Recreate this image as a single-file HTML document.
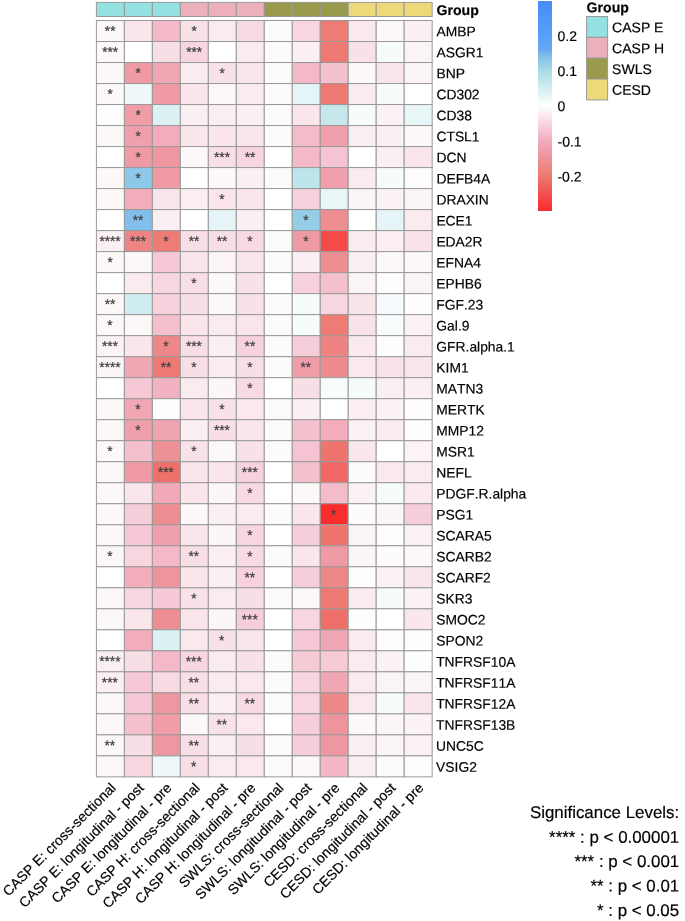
<!DOCTYPE html>
<html><head><meta charset="utf-8"><title>Heatmap</title>
<style>html,body{margin:0;padding:0;background:#fff}svg{display:block}text{font-family:"Liberation Sans",sans-serif;fill:#000;font-kerning:none;stroke:#000;stroke-width:0.18px}</style></head><body>
<svg width="685" height="921" viewBox="0 0 685 921">
<rect width="685" height="921" fill="#fff"/>
<g stroke="#999999" stroke-width="1">
<rect x="96.40" y="2.4" width="27.98" height="14.1" fill="#93E1E1"/>
<rect x="124.38" y="2.4" width="27.98" height="14.1" fill="#93E1E1"/>
<rect x="152.36" y="2.4" width="27.98" height="14.1" fill="#93E1E1"/>
<rect x="180.34" y="2.4" width="27.98" height="14.1" fill="#EBB0BC"/>
<rect x="208.32" y="2.4" width="27.98" height="14.1" fill="#EBB0BC"/>
<rect x="236.30" y="2.4" width="27.98" height="14.1" fill="#EBB0BC"/>
<rect x="264.28" y="2.4" width="27.98" height="14.1" fill="#999A4B"/>
<rect x="292.26" y="2.4" width="27.98" height="14.1" fill="#999A4B"/>
<rect x="320.24" y="2.4" width="27.98" height="14.1" fill="#999A4B"/>
<rect x="348.22" y="2.4" width="27.98" height="14.1" fill="#EDD97A"/>
<rect x="376.20" y="2.4" width="27.98" height="14.1" fill="#EDD97A"/>
<rect x="404.18" y="2.4" width="27.98" height="14.1" fill="#EDD97A"/>
</g>
<g stroke="#999999" stroke-width="1">
<rect x="96.40" y="20.50" width="27.98" height="21.01" fill="#FCF8F8"/>
<rect x="124.38" y="20.50" width="27.98" height="21.01" fill="#F9E5EA"/>
<rect x="152.36" y="20.50" width="27.98" height="21.01" fill="#F4B8C8"/>
<rect x="180.34" y="20.50" width="27.98" height="21.01" fill="#F8E2E8"/>
<rect x="208.32" y="20.50" width="27.98" height="21.01" fill="#FAEBEE"/>
<rect x="236.30" y="20.50" width="27.98" height="21.01" fill="#F8DAE2"/>
<rect x="264.28" y="20.50" width="27.98" height="21.01" fill="#FDFAFA"/>
<rect x="292.26" y="20.50" width="27.98" height="21.01" fill="#F7D6DF"/>
<rect x="320.24" y="20.50" width="27.98" height="21.01" fill="#EE7C75"/>
<rect x="348.22" y="20.50" width="27.98" height="21.01" fill="#FAE8EC"/>
<rect x="376.20" y="20.50" width="27.98" height="21.01" fill="#FCF8F8"/>
<rect x="404.18" y="20.50" width="27.98" height="21.01" fill="#FAF0F3"/>
<rect x="96.40" y="41.51" width="27.98" height="21.01" fill="#FCF8F8"/>
<rect x="124.38" y="41.51" width="27.98" height="21.01" fill="#FFFFFF"/>
<rect x="152.36" y="41.51" width="27.98" height="21.01" fill="#F8DEE5"/>
<rect x="180.34" y="41.51" width="27.98" height="21.01" fill="#F7D6DF"/>
<rect x="208.32" y="41.51" width="27.98" height="21.01" fill="#FFFFFF"/>
<rect x="236.30" y="41.51" width="27.98" height="21.01" fill="#FAEBEE"/>
<rect x="264.28" y="41.51" width="27.98" height="21.01" fill="#FDFAFA"/>
<rect x="292.26" y="41.51" width="27.98" height="21.01" fill="#FAF0F3"/>
<rect x="320.24" y="41.51" width="27.98" height="21.01" fill="#EE7872"/>
<rect x="348.22" y="41.51" width="27.98" height="21.01" fill="#F8E2E8"/>
<rect x="376.20" y="41.51" width="27.98" height="21.01" fill="#F6FCFC"/>
<rect x="404.18" y="41.51" width="27.98" height="21.01" fill="#FBF4F6"/>
<rect x="96.40" y="62.52" width="27.98" height="21.01" fill="#FCF8F8"/>
<rect x="124.38" y="62.52" width="27.98" height="21.01" fill="#EF9AA4"/>
<rect x="152.36" y="62.52" width="27.98" height="21.01" fill="#F1A6B4"/>
<rect x="180.34" y="62.52" width="27.98" height="21.01" fill="#FAEBEE"/>
<rect x="208.32" y="62.52" width="27.98" height="21.01" fill="#F8E2E8"/>
<rect x="236.30" y="62.52" width="27.98" height="21.01" fill="#F9E5EA"/>
<rect x="264.28" y="62.52" width="27.98" height="21.01" fill="#FDFAFA"/>
<rect x="292.26" y="62.52" width="27.98" height="21.01" fill="#F4B8C8"/>
<rect x="320.24" y="62.52" width="27.98" height="21.01" fill="#F5C0CE"/>
<rect x="348.22" y="62.52" width="27.98" height="21.01" fill="#FCF8F8"/>
<rect x="376.20" y="62.52" width="27.98" height="21.01" fill="#F9E5EA"/>
<rect x="404.18" y="62.52" width="27.98" height="21.01" fill="#FBF4F6"/>
<rect x="96.40" y="83.53" width="27.98" height="21.01" fill="#FCF8F8"/>
<rect x="124.38" y="83.53" width="27.98" height="21.01" fill="#EEF8FA"/>
<rect x="152.36" y="83.53" width="27.98" height="21.01" fill="#EF9AA4"/>
<rect x="180.34" y="83.53" width="27.98" height="21.01" fill="#F9E5EA"/>
<rect x="208.32" y="83.53" width="27.98" height="21.01" fill="#FCF8F8"/>
<rect x="236.30" y="83.53" width="27.98" height="21.01" fill="#FAEBEE"/>
<rect x="264.28" y="83.53" width="27.98" height="21.01" fill="#FDFAFA"/>
<rect x="292.26" y="83.53" width="27.98" height="21.01" fill="#E5F4F7"/>
<rect x="320.24" y="83.53" width="27.98" height="21.01" fill="#EE7872"/>
<rect x="348.22" y="83.53" width="27.98" height="21.01" fill="#FAEBEE"/>
<rect x="376.20" y="83.53" width="27.98" height="21.01" fill="#F6FCFC"/>
<rect x="404.18" y="83.53" width="27.98" height="21.01" fill="#FFFFFF"/>
<rect x="96.40" y="104.54" width="27.98" height="21.01" fill="#FEFCFC"/>
<rect x="124.38" y="104.54" width="27.98" height="21.01" fill="#F09DA8"/>
<rect x="152.36" y="104.54" width="27.98" height="21.01" fill="#DCF1F4"/>
<rect x="180.34" y="104.54" width="27.98" height="21.01" fill="#FAF0F3"/>
<rect x="208.32" y="104.54" width="27.98" height="21.01" fill="#FAEEF0"/>
<rect x="236.30" y="104.54" width="27.98" height="21.01" fill="#FAF0F3"/>
<rect x="264.28" y="104.54" width="27.98" height="21.01" fill="#FDFAFA"/>
<rect x="292.26" y="104.54" width="27.98" height="21.01" fill="#F9E5EA"/>
<rect x="320.24" y="104.54" width="27.98" height="21.01" fill="#C6E8ED"/>
<rect x="348.22" y="104.54" width="27.98" height="21.01" fill="#F6FCFC"/>
<rect x="376.20" y="104.54" width="27.98" height="21.01" fill="#FAF2F4"/>
<rect x="404.18" y="104.54" width="27.98" height="21.01" fill="#E9F6F8"/>
<rect x="96.40" y="125.55" width="27.98" height="21.01" fill="#FCF8F8"/>
<rect x="124.38" y="125.55" width="27.98" height="21.01" fill="#F0A0AC"/>
<rect x="152.36" y="125.55" width="27.98" height="21.01" fill="#F2ACBB"/>
<rect x="180.34" y="125.55" width="27.98" height="21.01" fill="#F9E7EB"/>
<rect x="208.32" y="125.55" width="27.98" height="21.01" fill="#F9E5EA"/>
<rect x="236.30" y="125.55" width="27.98" height="21.01" fill="#F9E5EA"/>
<rect x="264.28" y="125.55" width="27.98" height="21.01" fill="#FDFAFA"/>
<rect x="292.26" y="125.55" width="27.98" height="21.01" fill="#F4BCCB"/>
<rect x="320.24" y="125.55" width="27.98" height="21.01" fill="#F0A0AC"/>
<rect x="348.22" y="125.55" width="27.98" height="21.01" fill="#FAF0F3"/>
<rect x="376.20" y="125.55" width="27.98" height="21.01" fill="#FAF0F3"/>
<rect x="404.18" y="125.55" width="27.98" height="21.01" fill="#FCF8F8"/>
<rect x="96.40" y="146.56" width="27.98" height="21.01" fill="#FFFFFF"/>
<rect x="124.38" y="146.56" width="27.98" height="21.01" fill="#EF9AA4"/>
<rect x="152.36" y="146.56" width="27.98" height="21.01" fill="#EE97A0"/>
<rect x="180.34" y="146.56" width="27.98" height="21.01" fill="#FCF8F8"/>
<rect x="208.32" y="146.56" width="27.98" height="21.01" fill="#F8DEE5"/>
<rect x="236.30" y="146.56" width="27.98" height="21.01" fill="#F7D6DF"/>
<rect x="264.28" y="146.56" width="27.98" height="21.01" fill="#FFFFFF"/>
<rect x="292.26" y="146.56" width="27.98" height="21.01" fill="#F4B8C8"/>
<rect x="320.24" y="146.56" width="27.98" height="21.01" fill="#F5C3D1"/>
<rect x="348.22" y="146.56" width="27.98" height="21.01" fill="#FFFFFF"/>
<rect x="376.20" y="146.56" width="27.98" height="21.01" fill="#FAF0F3"/>
<rect x="404.18" y="146.56" width="27.98" height="21.01" fill="#F9E5EA"/>
<rect x="96.40" y="167.57" width="27.98" height="21.01" fill="#FCF8F8"/>
<rect x="124.38" y="167.57" width="27.98" height="21.01" fill="#8EC8E8"/>
<rect x="152.36" y="167.57" width="27.98" height="21.01" fill="#EF9AA4"/>
<rect x="180.34" y="167.57" width="27.98" height="21.01" fill="#FFFFFF"/>
<rect x="208.32" y="167.57" width="27.98" height="21.01" fill="#FCF8F8"/>
<rect x="236.30" y="167.57" width="27.98" height="21.01" fill="#FAF0F3"/>
<rect x="264.28" y="167.57" width="27.98" height="21.01" fill="#FDFAFA"/>
<rect x="292.26" y="167.57" width="27.98" height="21.01" fill="#BEE5EB"/>
<rect x="320.24" y="167.57" width="27.98" height="21.01" fill="#F0A0AC"/>
<rect x="348.22" y="167.57" width="27.98" height="21.01" fill="#FAEBEE"/>
<rect x="376.20" y="167.57" width="27.98" height="21.01" fill="#F6FCFC"/>
<rect x="404.18" y="167.57" width="27.98" height="21.01" fill="#FEFCFC"/>
<rect x="96.40" y="188.58" width="27.98" height="21.01" fill="#FCF8F8"/>
<rect x="124.38" y="188.58" width="27.98" height="21.01" fill="#F2ACBB"/>
<rect x="152.36" y="188.58" width="27.98" height="21.01" fill="#F9E5EA"/>
<rect x="180.34" y="188.58" width="27.98" height="21.01" fill="#FAEEF0"/>
<rect x="208.32" y="188.58" width="27.98" height="21.01" fill="#F9E5EA"/>
<rect x="236.30" y="188.58" width="27.98" height="21.01" fill="#F9E5EA"/>
<rect x="264.28" y="188.58" width="27.98" height="21.01" fill="#FFFFFF"/>
<rect x="292.26" y="188.58" width="27.98" height="21.01" fill="#F7D2DC"/>
<rect x="320.24" y="188.58" width="27.98" height="21.01" fill="#E8F6F8"/>
<rect x="348.22" y="188.58" width="27.98" height="21.01" fill="#FBF4F6"/>
<rect x="376.20" y="188.58" width="27.98" height="21.01" fill="#FBF2F4"/>
<rect x="404.18" y="188.58" width="27.98" height="21.01" fill="#FBF4F6"/>
<rect x="96.40" y="209.59" width="27.98" height="21.01" fill="#FFFFFF"/>
<rect x="124.38" y="209.59" width="27.98" height="21.01" fill="#82BEEB"/>
<rect x="152.36" y="209.59" width="27.98" height="21.01" fill="#FAF0F3"/>
<rect x="180.34" y="209.59" width="27.98" height="21.01" fill="#FFFFFF"/>
<rect x="208.32" y="209.59" width="27.98" height="21.01" fill="#E5F4F7"/>
<rect x="236.30" y="209.59" width="27.98" height="21.01" fill="#FAF0F3"/>
<rect x="264.28" y="209.59" width="27.98" height="21.01" fill="#FFFFFF"/>
<rect x="292.26" y="209.59" width="27.98" height="21.01" fill="#96CEE7"/>
<rect x="320.24" y="209.59" width="27.98" height="21.01" fill="#EE8E92"/>
<rect x="348.22" y="209.59" width="27.98" height="21.01" fill="#FFFFFF"/>
<rect x="376.20" y="209.59" width="27.98" height="21.01" fill="#E5F4F7"/>
<rect x="404.18" y="209.59" width="27.98" height="21.01" fill="#FAEBEE"/>
<rect x="96.40" y="230.60" width="27.98" height="21.01" fill="#FAF0F3"/>
<rect x="124.38" y="230.60" width="27.98" height="21.01" fill="#EE8584"/>
<rect x="152.36" y="230.60" width="27.98" height="21.01" fill="#EE7C75"/>
<rect x="180.34" y="230.60" width="27.98" height="21.01" fill="#F8DEE5"/>
<rect x="208.32" y="230.60" width="27.98" height="21.01" fill="#F8DEE5"/>
<rect x="236.30" y="230.60" width="27.98" height="21.01" fill="#F8DAE2"/>
<rect x="264.28" y="230.60" width="27.98" height="21.01" fill="#FDFAFA"/>
<rect x="292.26" y="230.60" width="27.98" height="21.01" fill="#EF9AA4"/>
<rect x="320.24" y="230.60" width="27.98" height="21.01" fill="#F44A4A"/>
<rect x="348.22" y="230.60" width="27.98" height="21.01" fill="#FAEBEE"/>
<rect x="376.20" y="230.60" width="27.98" height="21.01" fill="#FAEEF0"/>
<rect x="404.18" y="230.60" width="27.98" height="21.01" fill="#F9E3E8"/>
<rect x="96.40" y="251.61" width="27.98" height="21.01" fill="#FCF8F8"/>
<rect x="124.38" y="251.61" width="27.98" height="21.01" fill="#FCF8F8"/>
<rect x="152.36" y="251.61" width="27.98" height="21.01" fill="#F6C7D4"/>
<rect x="180.34" y="251.61" width="27.98" height="21.01" fill="#F9E5EA"/>
<rect x="208.32" y="251.61" width="27.98" height="21.01" fill="#FBF4F6"/>
<rect x="236.30" y="251.61" width="27.98" height="21.01" fill="#F9E5EA"/>
<rect x="264.28" y="251.61" width="27.98" height="21.01" fill="#FDFAFA"/>
<rect x="292.26" y="251.61" width="27.98" height="21.01" fill="#FAF0F3"/>
<rect x="320.24" y="251.61" width="27.98" height="21.01" fill="#EE8E92"/>
<rect x="348.22" y="251.61" width="27.98" height="21.01" fill="#FAF0F3"/>
<rect x="376.20" y="251.61" width="27.98" height="21.01" fill="#FCF8F8"/>
<rect x="404.18" y="251.61" width="27.98" height="21.01" fill="#FCF8F8"/>
<rect x="96.40" y="272.62" width="27.98" height="21.01" fill="#FFFFFF"/>
<rect x="124.38" y="272.62" width="27.98" height="21.01" fill="#FAEBEE"/>
<rect x="152.36" y="272.62" width="27.98" height="21.01" fill="#F7D6DF"/>
<rect x="180.34" y="272.62" width="27.98" height="21.01" fill="#F8DEE5"/>
<rect x="208.32" y="272.62" width="27.98" height="21.01" fill="#FCF8F8"/>
<rect x="236.30" y="272.62" width="27.98" height="21.01" fill="#F8E2E8"/>
<rect x="264.28" y="272.62" width="27.98" height="21.01" fill="#FFFFFF"/>
<rect x="292.26" y="272.62" width="27.98" height="21.01" fill="#F7D2DC"/>
<rect x="320.24" y="272.62" width="27.98" height="21.01" fill="#F5C0CE"/>
<rect x="348.22" y="272.62" width="27.98" height="21.01" fill="#FBF4F6"/>
<rect x="376.20" y="272.62" width="27.98" height="21.01" fill="#FEFDFD"/>
<rect x="404.18" y="272.62" width="27.98" height="21.01" fill="#FBF4F6"/>
<rect x="96.40" y="293.63" width="27.98" height="21.01" fill="#FCF8F8"/>
<rect x="124.38" y="293.63" width="27.98" height="21.01" fill="#CFECF0"/>
<rect x="152.36" y="293.63" width="27.98" height="21.01" fill="#F7D2DC"/>
<rect x="180.34" y="293.63" width="27.98" height="21.01" fill="#F8DEE5"/>
<rect x="208.32" y="293.63" width="27.98" height="21.01" fill="#FCF8F8"/>
<rect x="236.30" y="293.63" width="27.98" height="21.01" fill="#F8E2E8"/>
<rect x="264.28" y="293.63" width="27.98" height="21.01" fill="#FDFAFA"/>
<rect x="292.26" y="293.63" width="27.98" height="21.01" fill="#F6FCFC"/>
<rect x="320.24" y="293.63" width="27.98" height="21.01" fill="#F7D6DF"/>
<rect x="348.22" y="293.63" width="27.98" height="21.01" fill="#F9E4E9"/>
<rect x="376.20" y="293.63" width="27.98" height="21.01" fill="#F5FBFC"/>
<rect x="404.18" y="293.63" width="27.98" height="21.01" fill="#FEFCFC"/>
<rect x="96.40" y="314.64" width="27.98" height="21.01" fill="#FCF8F8"/>
<rect x="124.38" y="314.64" width="27.98" height="21.01" fill="#FCF8F8"/>
<rect x="152.36" y="314.64" width="27.98" height="21.01" fill="#F5C0CE"/>
<rect x="180.34" y="314.64" width="27.98" height="21.01" fill="#F9E5EA"/>
<rect x="208.32" y="314.64" width="27.98" height="21.01" fill="#FAEBEE"/>
<rect x="236.30" y="314.64" width="27.98" height="21.01" fill="#F9E5EA"/>
<rect x="264.28" y="314.64" width="27.98" height="21.01" fill="#FDFAFA"/>
<rect x="292.26" y="314.64" width="27.98" height="21.01" fill="#F6FCFC"/>
<rect x="320.24" y="314.64" width="27.98" height="21.01" fill="#EE7C75"/>
<rect x="348.22" y="314.64" width="27.98" height="21.01" fill="#F9E3E8"/>
<rect x="376.20" y="314.64" width="27.98" height="21.01" fill="#F8FCFD"/>
<rect x="404.18" y="314.64" width="27.98" height="21.01" fill="#FBF2F4"/>
<rect x="96.40" y="335.65" width="27.98" height="21.01" fill="#FBF4F6"/>
<rect x="124.38" y="335.65" width="27.98" height="21.01" fill="#F9E5EA"/>
<rect x="152.36" y="335.65" width="27.98" height="21.01" fill="#EE8888"/>
<rect x="180.34" y="335.65" width="27.98" height="21.01" fill="#F8DEE5"/>
<rect x="208.32" y="335.65" width="27.98" height="21.01" fill="#FAF0F3"/>
<rect x="236.30" y="335.65" width="27.98" height="21.01" fill="#F7D2DC"/>
<rect x="264.28" y="335.65" width="27.98" height="21.01" fill="#FDFAFA"/>
<rect x="292.26" y="335.65" width="27.98" height="21.01" fill="#F6CED9"/>
<rect x="320.24" y="335.65" width="27.98" height="21.01" fill="#EE8381"/>
<rect x="348.22" y="335.65" width="27.98" height="21.01" fill="#FAEAED"/>
<rect x="376.20" y="335.65" width="27.98" height="21.01" fill="#FEFDFD"/>
<rect x="404.18" y="335.65" width="27.98" height="21.01" fill="#FAEBEE"/>
<rect x="96.40" y="356.66" width="27.98" height="21.01" fill="#FBF4F6"/>
<rect x="124.38" y="356.66" width="27.98" height="21.01" fill="#F1A6B4"/>
<rect x="152.36" y="356.66" width="27.98" height="21.01" fill="#EE7872"/>
<rect x="180.34" y="356.66" width="27.98" height="21.01" fill="#F8DEE5"/>
<rect x="208.32" y="356.66" width="27.98" height="21.01" fill="#FAEBEE"/>
<rect x="236.30" y="356.66" width="27.98" height="21.01" fill="#F8DEE5"/>
<rect x="264.28" y="356.66" width="27.98" height="21.01" fill="#FDFAFA"/>
<rect x="292.26" y="356.66" width="27.98" height="21.01" fill="#F09DA8"/>
<rect x="320.24" y="356.66" width="27.98" height="21.01" fill="#EE8B8D"/>
<rect x="348.22" y="356.66" width="27.98" height="21.01" fill="#FAE9EC"/>
<rect x="376.20" y="356.66" width="27.98" height="21.01" fill="#F9E3E8"/>
<rect x="404.18" y="356.66" width="27.98" height="21.01" fill="#F9E6EB"/>
<rect x="96.40" y="377.67" width="27.98" height="21.01" fill="#FFFFFF"/>
<rect x="124.38" y="377.67" width="27.98" height="21.01" fill="#F6C7D4"/>
<rect x="152.36" y="377.67" width="27.98" height="21.01" fill="#F3B2C1"/>
<rect x="180.34" y="377.67" width="27.98" height="21.01" fill="#FAEBEE"/>
<rect x="208.32" y="377.67" width="27.98" height="21.01" fill="#FCF6F7"/>
<rect x="236.30" y="377.67" width="27.98" height="21.01" fill="#F8DAE2"/>
<rect x="264.28" y="377.67" width="27.98" height="21.01" fill="#FFFFFF"/>
<rect x="292.26" y="377.67" width="27.98" height="21.01" fill="#F8DEE5"/>
<rect x="320.24" y="377.67" width="27.98" height="21.01" fill="#F8FCFD"/>
<rect x="348.22" y="377.67" width="27.98" height="21.01" fill="#F6FCFC"/>
<rect x="376.20" y="377.67" width="27.98" height="21.01" fill="#FAF0F3"/>
<rect x="404.18" y="377.67" width="27.98" height="21.01" fill="#FAF0F3"/>
<rect x="96.40" y="398.68" width="27.98" height="21.01" fill="#FCF8F8"/>
<rect x="124.38" y="398.68" width="27.98" height="21.01" fill="#F1A6B4"/>
<rect x="152.36" y="398.68" width="27.98" height="21.01" fill="#FEFCFC"/>
<rect x="180.34" y="398.68" width="27.98" height="21.01" fill="#F9E5EA"/>
<rect x="208.32" y="398.68" width="27.98" height="21.01" fill="#F8E2E8"/>
<rect x="236.30" y="398.68" width="27.98" height="21.01" fill="#FAE8EC"/>
<rect x="264.28" y="398.68" width="27.98" height="21.01" fill="#FDFAFA"/>
<rect x="292.26" y="398.68" width="27.98" height="21.01" fill="#FAF0F3"/>
<rect x="320.24" y="398.68" width="27.98" height="21.01" fill="#FFFFFF"/>
<rect x="348.22" y="398.68" width="27.98" height="21.01" fill="#FAEEF0"/>
<rect x="376.20" y="398.68" width="27.98" height="21.01" fill="#FBF2F4"/>
<rect x="404.18" y="398.68" width="27.98" height="21.01" fill="#FEFCFC"/>
<rect x="96.40" y="419.69" width="27.98" height="21.01" fill="#FCF8F8"/>
<rect x="124.38" y="419.69" width="27.98" height="21.01" fill="#F0A0AC"/>
<rect x="152.36" y="419.69" width="27.98" height="21.01" fill="#F0A3B0"/>
<rect x="180.34" y="419.69" width="27.98" height="21.01" fill="#FAF0F3"/>
<rect x="208.32" y="419.69" width="27.98" height="21.01" fill="#F8DEE5"/>
<rect x="236.30" y="419.69" width="27.98" height="21.01" fill="#F9E5EA"/>
<rect x="264.28" y="419.69" width="27.98" height="21.01" fill="#FDFAFA"/>
<rect x="292.26" y="419.69" width="27.98" height="21.01" fill="#F5C0CE"/>
<rect x="320.24" y="419.69" width="27.98" height="21.01" fill="#F2ACBB"/>
<rect x="348.22" y="419.69" width="27.98" height="21.01" fill="#FAF2F4"/>
<rect x="376.20" y="419.69" width="27.98" height="21.01" fill="#FAECF0"/>
<rect x="404.18" y="419.69" width="27.98" height="21.01" fill="#FEFCFC"/>
<rect x="96.40" y="440.70" width="27.98" height="21.01" fill="#FCF8F8"/>
<rect x="124.38" y="440.70" width="27.98" height="21.01" fill="#F5C0CE"/>
<rect x="152.36" y="440.70" width="27.98" height="21.01" fill="#EE9197"/>
<rect x="180.34" y="440.70" width="27.98" height="21.01" fill="#F8E2E8"/>
<rect x="208.32" y="440.70" width="27.98" height="21.01" fill="#FCF8F8"/>
<rect x="236.30" y="440.70" width="27.98" height="21.01" fill="#F8E2E8"/>
<rect x="264.28" y="440.70" width="27.98" height="21.01" fill="#FDFAFA"/>
<rect x="292.26" y="440.70" width="27.98" height="21.01" fill="#F5C3D1"/>
<rect x="320.24" y="440.70" width="27.98" height="21.01" fill="#EF746E"/>
<rect x="348.22" y="440.70" width="27.98" height="21.01" fill="#F9E7EB"/>
<rect x="376.20" y="440.70" width="27.98" height="21.01" fill="#FFFFFF"/>
<rect x="404.18" y="440.70" width="27.98" height="21.01" fill="#FBF3F5"/>
<rect x="96.40" y="461.71" width="27.98" height="21.01" fill="#FCF8F8"/>
<rect x="124.38" y="461.71" width="27.98" height="21.01" fill="#EF9AA4"/>
<rect x="152.36" y="461.71" width="27.98" height="21.01" fill="#EF6F6A"/>
<rect x="180.34" y="461.71" width="27.98" height="21.01" fill="#F9E5EA"/>
<rect x="208.32" y="461.71" width="27.98" height="21.01" fill="#F9E5EA"/>
<rect x="236.30" y="461.71" width="27.98" height="21.01" fill="#F7D2DC"/>
<rect x="264.28" y="461.71" width="27.98" height="21.01" fill="#FFFFFF"/>
<rect x="292.26" y="461.71" width="27.98" height="21.01" fill="#F5C0CE"/>
<rect x="320.24" y="461.71" width="27.98" height="21.01" fill="#F06764"/>
<rect x="348.22" y="461.71" width="27.98" height="21.01" fill="#FDFBFB"/>
<rect x="376.20" y="461.71" width="27.98" height="21.01" fill="#FAE9ED"/>
<rect x="404.18" y="461.71" width="27.98" height="21.01" fill="#FAEBEE"/>
<rect x="96.40" y="482.72" width="27.98" height="21.01" fill="#FCF8F8"/>
<rect x="124.38" y="482.72" width="27.98" height="21.01" fill="#F9E5EA"/>
<rect x="152.36" y="482.72" width="27.98" height="21.01" fill="#F2A9B7"/>
<rect x="180.34" y="482.72" width="27.98" height="21.01" fill="#F9E5EA"/>
<rect x="208.32" y="482.72" width="27.98" height="21.01" fill="#FCF6F7"/>
<rect x="236.30" y="482.72" width="27.98" height="21.01" fill="#F8DAE2"/>
<rect x="264.28" y="482.72" width="27.98" height="21.01" fill="#FFFFFF"/>
<rect x="292.26" y="482.72" width="27.98" height="21.01" fill="#FCF8F8"/>
<rect x="320.24" y="482.72" width="27.98" height="21.01" fill="#F4BCCB"/>
<rect x="348.22" y="482.72" width="27.98" height="21.01" fill="#FBF2F4"/>
<rect x="376.20" y="482.72" width="27.98" height="21.01" fill="#F6FCFC"/>
<rect x="404.18" y="482.72" width="27.98" height="21.01" fill="#FAEAED"/>
<rect x="96.40" y="503.73" width="27.98" height="21.01" fill="#FCF8F8"/>
<rect x="124.38" y="503.73" width="27.98" height="21.01" fill="#F6CED9"/>
<rect x="152.36" y="503.73" width="27.98" height="21.01" fill="#EE8E92"/>
<rect x="180.34" y="503.73" width="27.98" height="21.01" fill="#FCF8F8"/>
<rect x="208.32" y="503.73" width="27.98" height="21.01" fill="#FAF0F3"/>
<rect x="236.30" y="503.73" width="27.98" height="21.01" fill="#FAEBEE"/>
<rect x="264.28" y="503.73" width="27.98" height="21.01" fill="#FDFAFA"/>
<rect x="292.26" y="503.73" width="27.98" height="21.01" fill="#F9E5EA"/>
<rect x="320.24" y="503.73" width="27.98" height="21.01" fill="#FB2C2C"/>
<rect x="348.22" y="503.73" width="27.98" height="21.01" fill="#FDFBFB"/>
<rect x="376.20" y="503.73" width="27.98" height="21.01" fill="#FBF5F6"/>
<rect x="404.18" y="503.73" width="27.98" height="21.01" fill="#F6CED9"/>
<rect x="96.40" y="524.74" width="27.98" height="21.01" fill="#FCF8F8"/>
<rect x="124.38" y="524.74" width="27.98" height="21.01" fill="#F6C7D4"/>
<rect x="152.36" y="524.74" width="27.98" height="21.01" fill="#F0A0AC"/>
<rect x="180.34" y="524.74" width="27.98" height="21.01" fill="#F9E5EA"/>
<rect x="208.32" y="524.74" width="27.98" height="21.01" fill="#FCF6F7"/>
<rect x="236.30" y="524.74" width="27.98" height="21.01" fill="#F7D6DF"/>
<rect x="264.28" y="524.74" width="27.98" height="21.01" fill="#FFFFFF"/>
<rect x="292.26" y="524.74" width="27.98" height="21.01" fill="#F6CED9"/>
<rect x="320.24" y="524.74" width="27.98" height="21.01" fill="#EF746E"/>
<rect x="348.22" y="524.74" width="27.98" height="21.01" fill="#FBF4F6"/>
<rect x="376.20" y="524.74" width="27.98" height="21.01" fill="#FEFCFC"/>
<rect x="404.18" y="524.74" width="27.98" height="21.01" fill="#FAF2F4"/>
<rect x="96.40" y="545.75" width="27.98" height="21.01" fill="#FCF8F8"/>
<rect x="124.38" y="545.75" width="27.98" height="21.01" fill="#F7D6DF"/>
<rect x="152.36" y="545.75" width="27.98" height="21.01" fill="#F4B8C8"/>
<rect x="180.34" y="545.75" width="27.98" height="21.01" fill="#F8DEE5"/>
<rect x="208.32" y="545.75" width="27.98" height="21.01" fill="#FAF0F3"/>
<rect x="236.30" y="545.75" width="27.98" height="21.01" fill="#F8DAE2"/>
<rect x="264.28" y="545.75" width="27.98" height="21.01" fill="#FDFAFA"/>
<rect x="292.26" y="545.75" width="27.98" height="21.01" fill="#F9E5EA"/>
<rect x="320.24" y="545.75" width="27.98" height="21.01" fill="#EF9AA4"/>
<rect x="348.22" y="545.75" width="27.98" height="21.01" fill="#FBF5F6"/>
<rect x="376.20" y="545.75" width="27.98" height="21.01" fill="#FDFBFB"/>
<rect x="404.18" y="545.75" width="27.98" height="21.01" fill="#FCF8F8"/>
<rect x="96.40" y="566.76" width="27.98" height="21.01" fill="#FFFFFF"/>
<rect x="124.38" y="566.76" width="27.98" height="21.01" fill="#F2ACBB"/>
<rect x="152.36" y="566.76" width="27.98" height="21.01" fill="#EE949C"/>
<rect x="180.34" y="566.76" width="27.98" height="21.01" fill="#F9E5EA"/>
<rect x="208.32" y="566.76" width="27.98" height="21.01" fill="#FAF0F3"/>
<rect x="236.30" y="566.76" width="27.98" height="21.01" fill="#F7D2DC"/>
<rect x="264.28" y="566.76" width="27.98" height="21.01" fill="#FFFFFF"/>
<rect x="292.26" y="566.76" width="27.98" height="21.01" fill="#F6CED9"/>
<rect x="320.24" y="566.76" width="27.98" height="21.01" fill="#EE8888"/>
<rect x="348.22" y="566.76" width="27.98" height="21.01" fill="#FEFCFC"/>
<rect x="376.20" y="566.76" width="27.98" height="21.01" fill="#FBF2F4"/>
<rect x="404.18" y="566.76" width="27.98" height="21.01" fill="#F9E6EB"/>
<rect x="96.40" y="587.77" width="27.98" height="21.01" fill="#FCF8F8"/>
<rect x="124.38" y="587.77" width="27.98" height="21.01" fill="#F7D6DF"/>
<rect x="152.36" y="587.77" width="27.98" height="21.01" fill="#F6C7D4"/>
<rect x="180.34" y="587.77" width="27.98" height="21.01" fill="#F8E2E8"/>
<rect x="208.32" y="587.77" width="27.98" height="21.01" fill="#FAEBEE"/>
<rect x="236.30" y="587.77" width="27.98" height="21.01" fill="#F8DEE5"/>
<rect x="264.28" y="587.77" width="27.98" height="21.01" fill="#FDFAFA"/>
<rect x="292.26" y="587.77" width="27.98" height="21.01" fill="#FCF8F8"/>
<rect x="320.24" y="587.77" width="27.98" height="21.01" fill="#EE7872"/>
<rect x="348.22" y="587.77" width="27.98" height="21.01" fill="#FAEBEE"/>
<rect x="376.20" y="587.77" width="27.98" height="21.01" fill="#F6FCFC"/>
<rect x="404.18" y="587.77" width="27.98" height="21.01" fill="#FAF2F4"/>
<rect x="96.40" y="608.78" width="27.98" height="21.01" fill="#FCF8F8"/>
<rect x="124.38" y="608.78" width="27.98" height="21.01" fill="#F9E5EA"/>
<rect x="152.36" y="608.78" width="27.98" height="21.01" fill="#EE8E92"/>
<rect x="180.34" y="608.78" width="27.98" height="21.01" fill="#F9E5EA"/>
<rect x="208.32" y="608.78" width="27.98" height="21.01" fill="#FCF6F7"/>
<rect x="236.30" y="608.78" width="27.98" height="21.01" fill="#F6CED9"/>
<rect x="264.28" y="608.78" width="27.98" height="21.01" fill="#FFFFFF"/>
<rect x="292.26" y="608.78" width="27.98" height="21.01" fill="#F7D6DF"/>
<rect x="320.24" y="608.78" width="27.98" height="21.01" fill="#EF6F6A"/>
<rect x="348.22" y="608.78" width="27.98" height="21.01" fill="#FEFCFC"/>
<rect x="376.20" y="608.78" width="27.98" height="21.01" fill="#FFFFFF"/>
<rect x="404.18" y="608.78" width="27.98" height="21.01" fill="#F9E7EB"/>
<rect x="96.40" y="629.79" width="27.98" height="21.01" fill="#FFFFFF"/>
<rect x="124.38" y="629.79" width="27.98" height="21.01" fill="#F2ACBB"/>
<rect x="152.36" y="629.79" width="27.98" height="21.01" fill="#DCF1F4"/>
<rect x="180.34" y="629.79" width="27.98" height="21.01" fill="#FAE8EC"/>
<rect x="208.32" y="629.79" width="27.98" height="21.01" fill="#F8E2E8"/>
<rect x="236.30" y="629.79" width="27.98" height="21.01" fill="#F9E5EA"/>
<rect x="264.28" y="629.79" width="27.98" height="21.01" fill="#FFFFFF"/>
<rect x="292.26" y="629.79" width="27.98" height="21.01" fill="#F6C7D4"/>
<rect x="320.24" y="629.79" width="27.98" height="21.01" fill="#F1A6B4"/>
<rect x="348.22" y="629.79" width="27.98" height="21.01" fill="#FAEBEE"/>
<rect x="376.20" y="629.79" width="27.98" height="21.01" fill="#FEFCFC"/>
<rect x="404.18" y="629.79" width="27.98" height="21.01" fill="#FEFCFC"/>
<rect x="96.40" y="650.80" width="27.98" height="21.01" fill="#FAF0F3"/>
<rect x="124.38" y="650.80" width="27.98" height="21.01" fill="#F8DEE5"/>
<rect x="152.36" y="650.80" width="27.98" height="21.01" fill="#F4B8C8"/>
<rect x="180.34" y="650.80" width="27.98" height="21.01" fill="#F7D6DF"/>
<rect x="208.32" y="650.80" width="27.98" height="21.01" fill="#FAEBEE"/>
<rect x="236.30" y="650.80" width="27.98" height="21.01" fill="#F8E2E8"/>
<rect x="264.28" y="650.80" width="27.98" height="21.01" fill="#FDFAFA"/>
<rect x="292.26" y="650.80" width="27.98" height="21.01" fill="#F6CBD6"/>
<rect x="320.24" y="650.80" width="27.98" height="21.01" fill="#F6CBD6"/>
<rect x="348.22" y="650.80" width="27.98" height="21.01" fill="#FAEBEE"/>
<rect x="376.20" y="650.80" width="27.98" height="21.01" fill="#FBF2F4"/>
<rect x="404.18" y="650.80" width="27.98" height="21.01" fill="#FDFEFE"/>
<rect x="96.40" y="671.81" width="27.98" height="21.01" fill="#FAF0F3"/>
<rect x="124.38" y="671.81" width="27.98" height="21.01" fill="#F6C7D4"/>
<rect x="152.36" y="671.81" width="27.98" height="21.01" fill="#F8DAE2"/>
<rect x="180.34" y="671.81" width="27.98" height="21.01" fill="#F8DEE5"/>
<rect x="208.32" y="671.81" width="27.98" height="21.01" fill="#FAEBEE"/>
<rect x="236.30" y="671.81" width="27.98" height="21.01" fill="#FAE8EC"/>
<rect x="264.28" y="671.81" width="27.98" height="21.01" fill="#FDFAFA"/>
<rect x="292.26" y="671.81" width="27.98" height="21.01" fill="#F7D6DF"/>
<rect x="320.24" y="671.81" width="27.98" height="21.01" fill="#F1A6B4"/>
<rect x="348.22" y="671.81" width="27.98" height="21.01" fill="#FAEBEE"/>
<rect x="376.20" y="671.81" width="27.98" height="21.01" fill="#FBF4F6"/>
<rect x="404.18" y="671.81" width="27.98" height="21.01" fill="#FBF5F6"/>
<rect x="96.40" y="692.82" width="27.98" height="21.01" fill="#FCF8F8"/>
<rect x="124.38" y="692.82" width="27.98" height="21.01" fill="#F6C7D4"/>
<rect x="152.36" y="692.82" width="27.98" height="21.01" fill="#EE97A0"/>
<rect x="180.34" y="692.82" width="27.98" height="21.01" fill="#F8DEE5"/>
<rect x="208.32" y="692.82" width="27.98" height="21.01" fill="#FAF0F3"/>
<rect x="236.30" y="692.82" width="27.98" height="21.01" fill="#F8DAE2"/>
<rect x="264.28" y="692.82" width="27.98" height="21.01" fill="#FDFAFA"/>
<rect x="292.26" y="692.82" width="27.98" height="21.01" fill="#F7D6DF"/>
<rect x="320.24" y="692.82" width="27.98" height="21.01" fill="#EE8888"/>
<rect x="348.22" y="692.82" width="27.98" height="21.01" fill="#FAE8EC"/>
<rect x="376.20" y="692.82" width="27.98" height="21.01" fill="#F6FCFC"/>
<rect x="404.18" y="692.82" width="27.98" height="21.01" fill="#F9E5EA"/>
<rect x="96.40" y="713.83" width="27.98" height="21.01" fill="#FCF8F8"/>
<rect x="124.38" y="713.83" width="27.98" height="21.01" fill="#F5C0CE"/>
<rect x="152.36" y="713.83" width="27.98" height="21.01" fill="#F09DA8"/>
<rect x="180.34" y="713.83" width="27.98" height="21.01" fill="#FCF8F8"/>
<rect x="208.32" y="713.83" width="27.98" height="21.01" fill="#F8E2E8"/>
<rect x="236.30" y="713.83" width="27.98" height="21.01" fill="#FAE8EC"/>
<rect x="264.28" y="713.83" width="27.98" height="21.01" fill="#FFFFFF"/>
<rect x="292.26" y="713.83" width="27.98" height="21.01" fill="#F6CED9"/>
<rect x="320.24" y="713.83" width="27.98" height="21.01" fill="#EE949C"/>
<rect x="348.22" y="713.83" width="27.98" height="21.01" fill="#FCF8F8"/>
<rect x="376.20" y="713.83" width="27.98" height="21.01" fill="#FBF5F6"/>
<rect x="404.18" y="713.83" width="27.98" height="21.01" fill="#FAF2F4"/>
<rect x="96.40" y="734.84" width="27.98" height="21.01" fill="#FCF8F8"/>
<rect x="124.38" y="734.84" width="27.98" height="21.01" fill="#F8DEE5"/>
<rect x="152.36" y="734.84" width="27.98" height="21.01" fill="#EE97A0"/>
<rect x="180.34" y="734.84" width="27.98" height="21.01" fill="#F8DEE5"/>
<rect x="208.32" y="734.84" width="27.98" height="21.01" fill="#FAF0F3"/>
<rect x="236.30" y="734.84" width="27.98" height="21.01" fill="#F8DEE5"/>
<rect x="264.28" y="734.84" width="27.98" height="21.01" fill="#FDFAFA"/>
<rect x="292.26" y="734.84" width="27.98" height="21.01" fill="#F6CED9"/>
<rect x="320.24" y="734.84" width="27.98" height="21.01" fill="#EE97A0"/>
<rect x="348.22" y="734.84" width="27.98" height="21.01" fill="#FAF0F3"/>
<rect x="376.20" y="734.84" width="27.98" height="21.01" fill="#FBF5F6"/>
<rect x="404.18" y="734.84" width="27.98" height="21.01" fill="#FAF1F4"/>
<rect x="96.40" y="755.85" width="27.98" height="21.01" fill="#FCF8F8"/>
<rect x="124.38" y="755.85" width="27.98" height="21.01" fill="#F7D6DF"/>
<rect x="152.36" y="755.85" width="27.98" height="21.01" fill="#EEF8FA"/>
<rect x="180.34" y="755.85" width="27.98" height="21.01" fill="#F8DEE5"/>
<rect x="208.32" y="755.85" width="27.98" height="21.01" fill="#FAEBEE"/>
<rect x="236.30" y="755.85" width="27.98" height="21.01" fill="#FAE8EC"/>
<rect x="264.28" y="755.85" width="27.98" height="21.01" fill="#FDFAFA"/>
<rect x="292.26" y="755.85" width="27.98" height="21.01" fill="#FCF8F8"/>
<rect x="320.24" y="755.85" width="27.98" height="21.01" fill="#F4B5C5"/>
<rect x="348.22" y="755.85" width="27.98" height="21.01" fill="#FAEFF2"/>
<rect x="376.20" y="755.85" width="27.98" height="21.01" fill="#FDFAFA"/>
<rect x="404.18" y="755.85" width="27.98" height="21.01" fill="#FEFCFC"/>
</g>
<g font-size="13.65" text-anchor="middle" style="fill:#4D4D4D" transform="rotate(0.03 264 400)">
<text x="109.99" y="35.66" style="fill:#444;stroke:#444;stroke-width:0.3px">**</text>
<text x="193.93" y="35.66" style="fill:#444;stroke:#444;stroke-width:0.3px">*</text>
<text x="109.99" y="56.66" style="fill:#444;stroke:#444;stroke-width:0.3px">***</text>
<text x="193.93" y="56.66" style="fill:#444;stroke:#444;stroke-width:0.3px">***</text>
<text x="137.97" y="77.68" style="fill:#444;stroke:#444;stroke-width:0.3px">*</text>
<text x="221.91" y="77.68" style="fill:#444;stroke:#444;stroke-width:0.3px">*</text>
<text x="109.99" y="98.69" style="fill:#444;stroke:#444;stroke-width:0.3px">*</text>
<text x="137.97" y="119.70" style="fill:#444;stroke:#444;stroke-width:0.3px">*</text>
<text x="137.97" y="140.71" style="fill:#444;stroke:#444;stroke-width:0.3px">*</text>
<text x="137.97" y="161.72" style="fill:#444;stroke:#444;stroke-width:0.3px">*</text>
<text x="221.91" y="161.72" style="fill:#444;stroke:#444;stroke-width:0.3px">***</text>
<text x="249.89" y="161.72" style="fill:#444;stroke:#444;stroke-width:0.3px">**</text>
<text x="137.97" y="182.73" style="fill:#444;stroke:#444;stroke-width:0.3px">*</text>
<text x="221.91" y="203.74" style="fill:#444;stroke:#444;stroke-width:0.3px">*</text>
<text x="137.97" y="224.75" style="fill:#444;stroke:#444;stroke-width:0.3px">**</text>
<text x="305.85" y="224.75" style="fill:#444;stroke:#444;stroke-width:0.3px">*</text>
<text x="109.99" y="245.76" style="fill:#444;stroke:#444;stroke-width:0.3px">****</text>
<text x="137.97" y="245.76" style="fill:#444;stroke:#444;stroke-width:0.3px">***</text>
<text x="165.95" y="245.76" style="fill:#444;stroke:#444;stroke-width:0.3px">*</text>
<text x="193.93" y="245.76" style="fill:#444;stroke:#444;stroke-width:0.3px">**</text>
<text x="221.91" y="245.76" style="fill:#444;stroke:#444;stroke-width:0.3px">**</text>
<text x="249.89" y="245.76" style="fill:#444;stroke:#444;stroke-width:0.3px">*</text>
<text x="305.85" y="245.76" style="fill:#444;stroke:#444;stroke-width:0.3px">*</text>
<text x="109.99" y="266.76" style="fill:#444;stroke:#444;stroke-width:0.3px">*</text>
<text x="193.93" y="287.77" style="fill:#444;stroke:#444;stroke-width:0.3px">*</text>
<text x="109.99" y="308.79" style="fill:#444;stroke:#444;stroke-width:0.3px">**</text>
<text x="109.99" y="329.80" style="fill:#444;stroke:#444;stroke-width:0.3px">*</text>
<text x="109.99" y="350.81" style="fill:#444;stroke:#444;stroke-width:0.3px">***</text>
<text x="165.95" y="350.81" style="fill:#444;stroke:#444;stroke-width:0.3px">*</text>
<text x="193.93" y="350.81" style="fill:#444;stroke:#444;stroke-width:0.3px">***</text>
<text x="249.89" y="350.81" style="fill:#444;stroke:#444;stroke-width:0.3px">**</text>
<text x="109.99" y="371.81" style="fill:#444;stroke:#444;stroke-width:0.3px">****</text>
<text x="165.95" y="371.81" style="fill:#444;stroke:#444;stroke-width:0.3px">**</text>
<text x="193.93" y="371.81" style="fill:#444;stroke:#444;stroke-width:0.3px">*</text>
<text x="249.89" y="371.81" style="fill:#444;stroke:#444;stroke-width:0.3px">*</text>
<text x="305.85" y="371.81" style="fill:#444;stroke:#444;stroke-width:0.3px">**</text>
<text x="249.89" y="392.82" style="fill:#444;stroke:#444;stroke-width:0.3px">*</text>
<text x="137.97" y="413.83" style="fill:#444;stroke:#444;stroke-width:0.3px">*</text>
<text x="221.91" y="413.83" style="fill:#444;stroke:#444;stroke-width:0.3px">*</text>
<text x="137.97" y="434.85" style="fill:#444;stroke:#444;stroke-width:0.3px">*</text>
<text x="221.91" y="434.85" style="fill:#444;stroke:#444;stroke-width:0.3px">***</text>
<text x="109.99" y="455.86" style="fill:#444;stroke:#444;stroke-width:0.3px">*</text>
<text x="193.93" y="455.86" style="fill:#444;stroke:#444;stroke-width:0.3px">*</text>
<text x="165.95" y="476.87" style="fill:#444;stroke:#444;stroke-width:0.3px">***</text>
<text x="249.89" y="476.87" style="fill:#444;stroke:#444;stroke-width:0.3px">***</text>
<text x="249.89" y="497.88" style="fill:#444;stroke:#444;stroke-width:0.3px">*</text>
<text x="333.83" y="518.88" style="fill:#444;stroke:#444;stroke-width:0.3px">*</text>
<text x="249.89" y="539.89" style="fill:#444;stroke:#444;stroke-width:0.3px">*</text>
<text x="109.99" y="560.90" style="fill:#444;stroke:#444;stroke-width:0.3px">*</text>
<text x="193.93" y="560.90" style="fill:#444;stroke:#444;stroke-width:0.3px">**</text>
<text x="249.89" y="560.90" style="fill:#444;stroke:#444;stroke-width:0.3px">*</text>
<text x="249.89" y="581.91" style="fill:#444;stroke:#444;stroke-width:0.3px">**</text>
<text x="193.93" y="602.93" style="fill:#444;stroke:#444;stroke-width:0.3px">*</text>
<text x="249.89" y="623.94" style="fill:#444;stroke:#444;stroke-width:0.3px">***</text>
<text x="221.91" y="644.95" style="fill:#444;stroke:#444;stroke-width:0.3px">*</text>
<text x="109.99" y="665.96" style="fill:#444;stroke:#444;stroke-width:0.3px">****</text>
<text x="193.93" y="665.96" style="fill:#444;stroke:#444;stroke-width:0.3px">***</text>
<text x="109.99" y="686.97" style="fill:#444;stroke:#444;stroke-width:0.3px">***</text>
<text x="193.93" y="686.97" style="fill:#444;stroke:#444;stroke-width:0.3px">**</text>
<text x="193.93" y="707.98" style="fill:#444;stroke:#444;stroke-width:0.3px">**</text>
<text x="249.89" y="707.98" style="fill:#444;stroke:#444;stroke-width:0.3px">**</text>
<text x="221.91" y="728.99" style="fill:#444;stroke:#444;stroke-width:0.3px">**</text>
<text x="109.99" y="750.00" style="fill:#444;stroke:#444;stroke-width:0.3px">**</text>
<text x="193.93" y="750.00" style="fill:#444;stroke:#444;stroke-width:0.3px">**</text>
<text x="193.93" y="771.00" style="fill:#444;stroke:#444;stroke-width:0.3px">*</text>
</g>
<g font-size="13.85" transform="rotate(0.03 436 400)">
<text x="436.3" y="36.30">AMBP</text>
<text x="436.3" y="57.31">ASGR1</text>
<text x="436.3" y="78.33">BNP</text>
<text x="436.3" y="99.34">CD302</text>
<text x="436.3" y="120.34">CD38</text>
<text x="436.3" y="141.36">CTSL1</text>
<text x="436.3" y="162.37">DCN</text>
<text x="436.3" y="183.38">DEFB4A</text>
<text x="436.3" y="204.39">DRAXIN</text>
<text x="436.3" y="225.40">ECE1</text>
<text x="436.3" y="246.41">EDA2R</text>
<text x="436.3" y="267.42">EFNA4</text>
<text x="436.3" y="288.43">EPHB6</text>
<text x="436.3" y="309.44">FGF.23</text>
<text x="436.3" y="330.45">Gal.9</text>
<text x="436.3" y="351.46">GFR.alpha.1</text>
<text x="436.3" y="372.47">KIM1</text>
<text x="436.3" y="393.48">MATN3</text>
<text x="436.3" y="414.49">MERTK</text>
<text x="436.3" y="435.50">MMP12</text>
<text x="436.3" y="456.51">MSR1</text>
<text x="436.3" y="477.52">NEFL</text>
<text x="436.3" y="498.53">PDGF.R.alpha</text>
<text x="436.3" y="519.53">PSG1</text>
<text x="436.3" y="540.54">SCARA5</text>
<text x="436.3" y="561.55">SCARB2</text>
<text x="436.3" y="582.56">SCARF2</text>
<text x="436.3" y="603.58">SKR3</text>
<text x="436.3" y="624.59">SMOC2</text>
<text x="436.3" y="645.60">SPON2</text>
<text x="436.3" y="666.61">TNFRSF10A</text>
<text x="436.3" y="687.62">TNFRSF11A</text>
<text x="436.3" y="708.62">TNFRSF12A</text>
<text x="436.3" y="729.63">TNFRSF13B</text>
<text x="436.3" y="750.64">UNC5C</text>
<text x="436.3" y="771.65">VSIG2</text>
</g>
<text x="436.5" y="15.1" font-size="14.1" font-weight="bold" transform="rotate(0.03 450 15)">Group</text>
<g font-size="14.05" text-anchor="end">
<text transform="translate(116.69,788.70) rotate(-45)" x="0" y="0">CASP E: cross-sectional</text>
<text transform="translate(144.67,788.70) rotate(-45)" x="0" y="0">CASP E: longitudinal - post</text>
<text transform="translate(172.65,788.70) rotate(-45)" x="0" y="0">CASP E: longitudinal - pre</text>
<text transform="translate(200.63,788.70) rotate(-45)" x="0" y="0">CASP H: cross-sectional</text>
<text transform="translate(228.61,788.70) rotate(-45)" x="0" y="0">CASP H: longitudinal - post</text>
<text transform="translate(256.59,788.70) rotate(-45)" x="0" y="0">CASP H: longitudinal - pre</text>
<text transform="translate(284.57,788.70) rotate(-45)" x="0" y="0">SWLS: cross-sectional</text>
<text transform="translate(312.55,788.70) rotate(-45)" x="0" y="0">SWLS: longitudinal - post</text>
<text transform="translate(340.53,788.70) rotate(-45)" x="0" y="0">SWLS: longitudinal - pre</text>
<text transform="translate(368.51,788.70) rotate(-45)" x="0" y="0">CESD: cross-sectional</text>
<text transform="translate(396.49,788.70) rotate(-45)" x="0" y="0">CESD: longitudinal - post</text>
<text transform="translate(424.47,788.70) rotate(-45)" x="0" y="0">CESD: longitudinal - pre</text>
</g>
<defs><linearGradient id="cb" x1="0" y1="0" x2="0" y2="1">
<stop offset="0.0000" stop-color="#4A8DF6"/>
<stop offset="0.1667" stop-color="#55A0FA"/>
<stop offset="0.2333" stop-color="#68A8F0"/>
<stop offset="0.2667" stop-color="#85C1EA"/>
<stop offset="0.3333" stop-color="#A8DCE4"/>
<stop offset="0.5000" stop-color="#FFFFFF"/>
<stop offset="0.6667" stop-color="#F2ABBE"/>
<stop offset="0.7500" stop-color="#EF9298"/>
<stop offset="0.8333" stop-color="#EC7A70"/>
<stop offset="0.9167" stop-color="#F25050"/>
<stop offset="1.0000" stop-color="#FB2C2C"/>
</linearGradient></defs>
<rect x="538" y="1" width="14" height="210" fill="url(#cb)"/>
<g font-size="14" transform="rotate(0.03 570 107)">
<text x="557.5" y="40.9">0.2</text>
<text x="557.5" y="75.9">0.1</text>
<text x="557.5" y="110.9">0</text>
<text x="557.5" y="146.4">-0.1</text>
<text x="557.5" y="181.4">-0.2</text>
</g>
<text x="586.6" y="12.3" font-size="14.1" font-weight="bold" transform="rotate(0.03 600 12)">Group</text>
<g stroke="#999999" stroke-width="1">
<rect x="586.6" y="16.50" width="21" height="20.85" fill="#93E1E1"/>
<rect x="586.6" y="37.35" width="21" height="20.85" fill="#EBB0BC"/>
<rect x="586.6" y="58.20" width="21" height="20.85" fill="#999A4B"/>
<rect x="586.6" y="79.05" width="21" height="20.85" fill="#EDD97A"/>
</g>
<g font-size="14" transform="rotate(0.03 640 60)">
<text x="612.1" y="32.33">CASP E</text>
<text x="612.1" y="53.18">CASP H</text>
<text x="612.1" y="74.03">SWLS</text>
<text x="612.1" y="94.88">CESD</text>
</g>
<g font-size="16.9" text-anchor="end" transform="rotate(0.03 679 867)">
<text x="679.2" y="818.0">Significance Levels:</text>
<text x="679.2" y="842.8">**** : p &lt; 0.00001</text>
<text x="679.2" y="867.0">*** : p &lt; 0.001</text>
<text x="679.2" y="891.5">** : p &lt; 0.01</text>
<text x="679.2" y="916.0">* : p &lt; 0.05</text>
</g>
</svg></body></html>
